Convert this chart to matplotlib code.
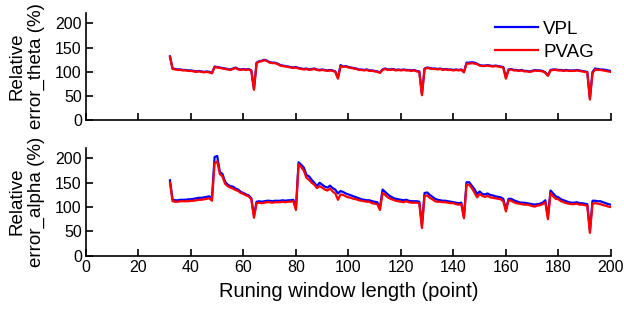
import matplotlib
matplotlib.use('Agg')
import matplotlib.pyplot as plt

plt.rcParams['font.family'] = ['Liberation Sans', 'DejaVu Sans']

# 窗口长度 32..200
x_start = 32
x_ticks = [0, 20, 40, 60, 80, 100, 120, 140, 160, 180, 200]
y_ticks = [0, 50, 100, 150, 200]

# theta 相对误差 (%)
theta_vpl = [132,
             107, 106, 105, 105, 104, 104, 103, 103, 102, 101, 102, 101, 100, 101, 100, 98,
             111, 110, 109, 108, 107, 106, 105, 107, 109, 106, 105, 106, 105, 106, 103,
             65,
             119, 122, 123, 125, 123, 120, 119, 119, 117, 114, 113, 112, 111, 110, 109, 110,
             108, 107, 106, 107, 105, 106, 107, 105, 104, 105, 104, 103, 104, 103, 101,
             88,
             114, 111, 112, 110, 109, 108, 107, 105, 105, 104, 105, 103, 103, 102, 101, 99,
             105, 107, 105, 105, 106, 104, 105, 104, 105, 104, 104, 103, 104, 102, 101,
             54,
             107, 109, 108, 107, 107, 106, 107, 105, 106, 105, 105, 104, 105, 104, 105, 100,
             119, 119, 120, 119, 117, 114, 113, 113, 114, 113, 112, 113, 112, 111, 110,
             88,
             105, 106, 104, 104, 103, 104, 102, 102, 101, 102, 104, 103, 103, 102, 99, 93,
             104, 105, 105, 104, 104, 103, 104, 103, 103, 103, 104, 103, 102, 101, 100,
             46,
             100, 107, 106, 105, 105, 104, 103, 102]
theta_pvag = [131,
              106, 105, 104, 104, 103, 103, 102, 102, 101, 100, 101, 100, 99, 100, 99, 97,
              110, 109, 108, 107, 106, 105, 104, 106, 108, 105, 104, 105, 104, 105, 102,
              63,
              118, 121, 122, 124, 122, 119, 118, 118, 116, 113, 112, 111, 110, 109, 108, 109,
              107, 106, 105, 106, 104, 105, 106, 104, 103, 104, 103, 102, 103, 102, 100,
              86,
              112, 110, 111, 109, 108, 107, 106, 104, 104, 103, 104, 102, 102, 101, 100, 98,
              104, 106, 104, 104, 105, 103, 104, 103, 104, 103, 103, 102, 103, 101, 100,
              52,
              106, 108, 107, 106, 106, 105, 106, 104, 105, 104, 104, 103, 104, 103, 104, 99,
              117, 117, 118, 117, 116, 113, 112, 112, 113, 112, 111, 112, 111, 110, 109,
              86,
              104, 105, 103, 103, 102, 103, 101, 101, 100, 101, 103, 102, 102, 101, 98, 92,
              103, 104, 104, 103, 103, 102, 103, 102, 102, 102, 103, 102, 101, 100, 99,
              43,
              98, 105, 104, 104, 103, 102, 101, 100]

# alpha 相对误差 (%)
alpha_vpl = [155,
             115, 114, 114, 115, 115, 115, 116, 116, 117, 118, 119, 119, 120, 121, 122, 118,
             203, 205, 172, 168, 152, 146, 143, 142, 138, 136, 131, 129, 126, 124, 118,
             82,
             111, 112, 111, 112, 113, 113, 112, 113, 113, 113, 114, 113, 114, 114, 115,
             97,
             192, 187, 181, 166, 163, 156, 150, 143, 150, 146, 142, 140, 144, 139, 136, 128,
             133, 131, 128, 126, 124, 122, 120, 118, 116, 115, 114, 114, 112, 111, 110, 98,
             136, 131, 126, 122, 119, 117, 116, 115, 114, 115, 113, 112, 112, 112, 111,
             62,
             129, 130, 125, 121, 117, 115, 114, 113, 113, 112, 111, 110, 109, 108, 109,
             80,
             151, 151, 144, 137, 127, 132, 127, 126, 128, 125, 124, 122, 121, 120, 117,
             95,
             117, 117, 114, 112, 110, 109, 109, 108, 107, 106, 105, 106, 107, 109, 114,
             80,
             134, 128, 122, 120, 116, 114, 112, 110, 109, 109, 110, 108, 108, 107, 106,
             52,
             113, 113, 112, 112, 110, 108, 106, 105]
alpha_pvag = [150,
              112, 111, 111, 112, 112, 112, 112, 113, 113, 114, 115, 115, 116, 117, 118, 113,
              190, 194, 168, 163, 148, 143, 140, 138, 135, 133, 129, 127, 124, 122, 116,
              78,
              108, 109, 108, 109, 110, 110, 109, 110, 110, 110, 111, 110, 111, 111, 112,
              94,
              188, 182, 175, 160, 156, 150, 146, 139, 143, 140, 136, 134, 138, 132, 128, 115,
              126, 125, 122, 120, 119, 117, 116, 114, 113, 112, 111, 111, 108, 107, 106, 94,
              129, 125, 120, 117, 115, 113, 112, 111, 110, 112, 110, 109, 109, 109, 108,
              57,
              123, 124, 119, 116, 112, 111, 111, 110, 110, 109, 108, 108, 106, 105, 106,
              77,
              146, 146, 139, 130, 120, 127, 123, 121, 123, 120, 119, 118, 117, 116, 112,
              91,
              114, 113, 110, 108, 107, 106, 105, 105, 104, 102, 101, 103, 104, 106, 110,
              75,
              129, 122, 117, 116, 112, 110, 108, 107, 106, 106, 107, 105, 105, 104, 103,
              47,
              107, 108, 107, 106, 104, 103, 101, 100]

x = list(range(x_start, x_start + len(theta_vpl)))

fig = plt.figure(figsize=(6.24, 3.10), dpi=100)
ax1 = fig.add_axes([0.1378, 0.6113, 0.8412, 0.348])
ax2 = fig.add_axes([0.1378, 0.175, 0.8412, 0.3485])

panels = [(ax1, theta_vpl, theta_pvag, 'Relative\nerror_theta (%)'),
          (ax2, alpha_vpl, alpha_pvag, 'Relative\nerror_alpha (%)')]
for ax, vpl, pvag, lab in panels:
    ax.plot(x, vpl, color='#0000FF', lw=1.6, label='VPL')
    ax.plot(x, pvag, color='#FF0000', lw=1.6, label='PVAG')
    ax.set_xlim(0, 200)
    ax.set_ylim(0, 222)
    ax.set_xticks(x_ticks)
    ax.set_yticks(y_ticks)
    ax.spines['top'].set_visible(False)
    ax.spines['right'].set_visible(False)
    ax.spines['left'].set_linewidth(1.2)
    ax.spines['bottom'].set_linewidth(1.2)
    ax.tick_params(direction='in', length=5, width=1.2, labelsize=11.5, pad=3)
    ax.set_ylabel(lab, fontsize=13.5, linespacing=1.25, labelpad=7)

ax1.tick_params(axis='x', labelbottom=False)
ax2.set_xlabel('Runing window length (point)', fontsize=14.5, labelpad=5)

ax1.legend(loc='upper right', bbox_to_anchor=(1.0, 1.08), frameon=False,
           fontsize=13.5, handlelength=2.3, handletextpad=0.3, labelspacing=0.3)

fig.savefig('out.png', dpi=100)
